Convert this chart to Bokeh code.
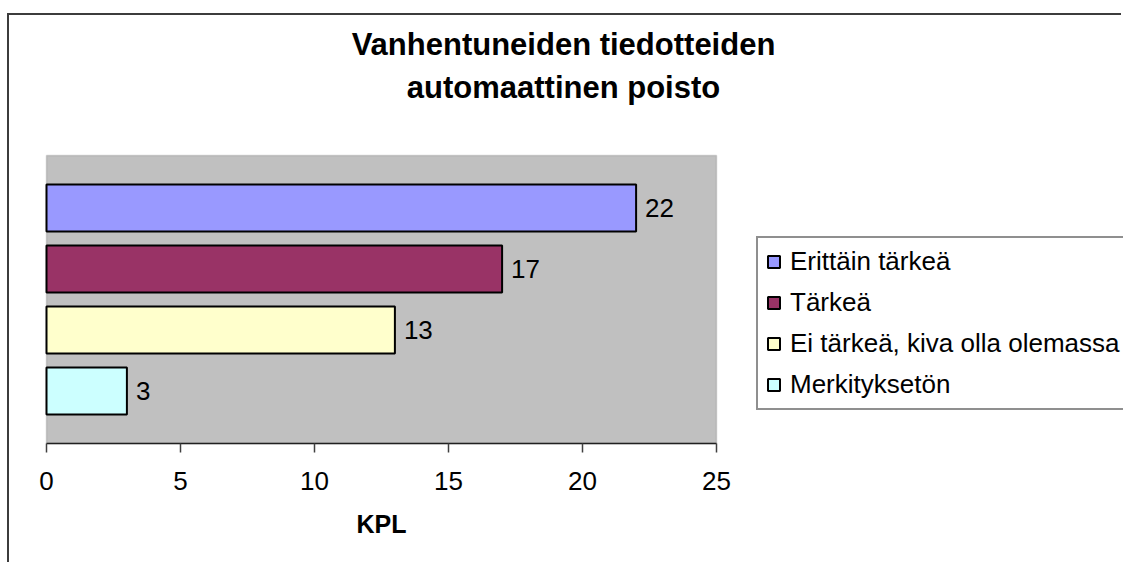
from bokeh.plotting import figure
from bokeh.models import (ColumnDataSource, Range1d, FixedTicker, Label, Legend,
                          LegendItem, BoxAnnotation)
from bokeh.core.properties import value
from bokeh.embed import file_html
from bokeh.resources import INLINE

# ---- data ----
categories = ["Erittäin tärkeä", "Tärkeä", "Ei tärkeä, kiva olla olemassa", "Merkityksetön"]
counts = [22, 17, 13, 3]
colors = ["#9999FF", "#993366", "#FFFFCC", "#CCFFFF"]
x_ticks = [0, 5, 10, 15, 20, 25]
x_min, x_max = 0, 25
title_lines = ["Vanhentuneiden tiedotteiden", "automaattinen poisto"]
x_label = "KPL"

FONT = "Liberation Sans"

# ---- layout (pixels within the canvas) ----
W, H = 1114, 549
PA_LEFT, PA_RIGHT = 37, 707      # plot area in canvas px
PA_TOP, PA_BOTTOM = 140, 428
PITCH = 61                        # px per bar slot
n = len(categories)
cluster_center = (n - 1) / 2.0

px_per_x = (PA_RIGHT - PA_LEFT) / (x_max - x_min)
xr = Range1d(x_min - PA_LEFT / px_per_x, x_min + (W - PA_LEFT) / px_per_x)
mid_py = (PA_TOP + PA_BOTTOM) / 2.0
yr = Range1d(cluster_center - (H - mid_py) / PITCH, cluster_center + mid_py / PITCH)
pa_top_y = cluster_center + (mid_py - PA_TOP) / PITCH
pa_bot_y = cluster_center - (PA_BOTTOM - mid_py) / PITCH

ypos = [n - 1 - i for i in range(n)]
src = ColumnDataSource(dict(cat=categories, val=counts, y=ypos, color=colors,
                            lbl=[str(v) for v in counts]))

p = figure(width=W, height=H, output_backend="svg", toolbar_location=None,
           x_range=xr, y_range=yr,
           min_border_left=0, min_border_right=0, min_border_top=0, min_border_bottom=0)
p.margin = (13, 0, 0, 7)
p.styles = {"border-left": "2px solid #3c3c3c", "border-top": "2px solid #3c3c3c"}

p.background_fill_color = "white"
p.border_fill_color = "white"
p.outline_line_color = None
p.grid.visible = False
p.yaxis.visible = False

# plot area
p.add_layout(BoxAnnotation(left=x_min, right=x_max, bottom=pa_bot_y, top=pa_top_y,
                           fill_color="#C0C0C0", fill_alpha=1.0,
                           line_color="#808080", line_width=1.5, level="underlay"))

bars = p.hbar(y="y", right="val", left=0, height=0.77, source=src,
              fill_color="color", line_color="black", line_width=2)

p.text(x="val", y="y", text="lbl", source=src, x_offset=9,
       text_baseline="middle", text_align="left",
       text_font=value(FONT), text_font_size="26px", text_color="black")

ax = p.xaxis[0]
ax.fixed_location = pa_bot_y
ax.bounds = (x_min, x_max)
ax.ticker = FixedTicker(ticks=x_ticks)
ax.minor_tick_line_color = None
ax.major_tick_in = 0
ax.major_tick_out = 9
ax.axis_line_color = "#202020"
ax.axis_line_width = 1.5
ax.major_tick_line_color = "#404040"
ax.major_tick_line_width = 1.5
ax.major_label_text_font = FONT
ax.major_label_text_font_size = "26px"
ax.major_label_text_color = "black"
ax.major_label_standoff = 19
ax.axis_label = x_label
ax.axis_label_text_font = FONT
ax.axis_label_text_font_size = "25px"
ax.axis_label_text_font_style = "bold"
ax.axis_label_text_color = "black"
ax.axis_label_standoff = 17

for txt, cy in zip(title_lines, [29, 72]):
    p.add_layout(Label(x=554, y=H - cy, x_units="screen", y_units="screen", text=txt,
                       text_align="center", text_baseline="middle",
                       text_font=FONT, text_font_size="31px", text_font_style="bold",
                       text_color="black"))

items = [LegendItem(label=c, renderers=[bars], index=i) for i, c in enumerate(categories)]
legend = Legend(items=items, location=(747, H - 395), orientation="vertical",
                label_text_font=FONT, label_text_font_size="26px", label_text_color="black",
                glyph_width=15, glyph_height=15, label_height=30, label_width=600,
                label_standoff=9, spacing=10, padding=8, margin=0,
                border_line_color="#202020", border_line_width=2,
                background_fill_color="white", background_fill_alpha=1.0)
p.add_layout(legend, "center")

open("out.html", "w").write(file_html(p, INLINE))
